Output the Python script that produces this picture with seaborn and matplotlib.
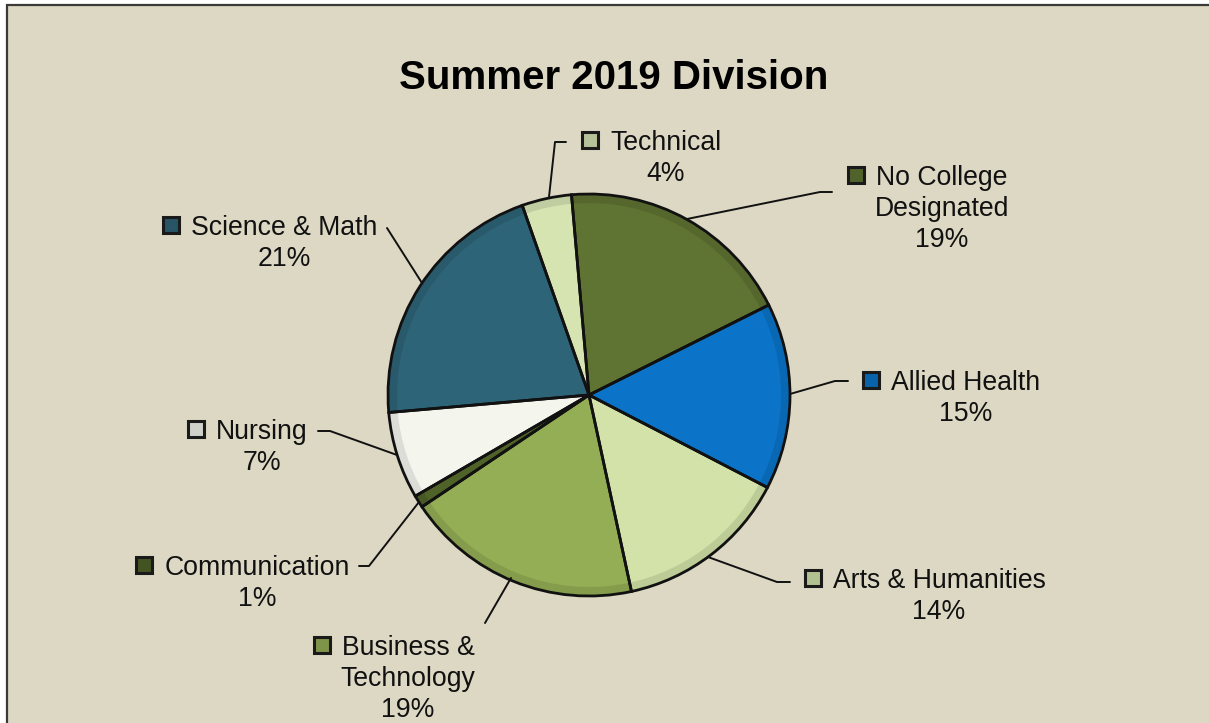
import matplotlib.pyplot as plt
import seaborn as sns
from matplotlib.patches import Rectangle
import numpy as np

categories = ["No College\nDesignated", "Allied Health", "Arts & Humanities",
              "Business &\nTechnology", "Communication", "Nursing",
              "Science & Math", "Technical"]
shares = [19, 15, 14, 19, 1, 7, 21, 4]
slice_colors = ["#5f7332", "#0b74c8", "#d3e2a8", "#94ae55",
                "#4f6228", "#f4f6ee", "#2e6478", "#d6e4b2"]

# label layout in pixels (text center x, first line center y from top)
label_pos = [(942, 175), (966, 380), (939, 578), (408, 645),
             (257, 565), (262, 429), (284, 225), (666, 140)]
leaders = [
    [(687, 219), (820, 192), (832, 192)],
    [(790, 394), (835, 381), (848, 381)],
    [(708, 557), (777, 582), (790, 582)],
    [(511, 578), (485, 623)],
    [(419, 502), (369, 566), (359, 566)],
    [(397, 455), (330, 431), (318, 431)],
    [(422, 283), (387, 228)],
    [(549, 197), (555, 142), (566, 142)],
]

W, H = 1209, 723
sns.set_theme(style="white")
plt.rcParams["font.family"] = ["Liberation Sans", "DejaVu Sans"]
bg = "#ddd8c3"
palette = sns.color_palette(slice_colors)

fig = plt.figure(figsize=(W / 100, H / 100), dpi=100, facecolor="white")
ax = fig.add_axes([0, 0, 1, 1])

def Y(py):
    return H - py

# chart area frame
ax.add_patch(Rectangle((6.5, -20), W + 40, Y(4.5) + 20, facecolor=bg,
                       edgecolor="#3a3a3a", lw=1.6, zorder=0))

cx, cy, r = 589, Y(395), 201
ax.pie(shares, colors=palette, startangle=95, counterclock=False,
       center=(cx, cy), radius=r, frame=True,
       wedgeprops=dict(edgecolor="none"))
# soft darker rim for a little bevel
dark = [tuple(np.array(c) * 0.75) for c in palette]
ax.pie(shares, colors=dark, startangle=95, counterclock=False,
       center=(cx, cy), radius=r - 1, frame=True,
       wedgeprops=dict(width=8, edgecolor="none", alpha=0.4))
ax.pie(shares, colors=["none"] * len(shares), startangle=95, counterclock=False,
       center=(cx, cy), radius=r, frame=True,
       wedgeprops=dict(edgecolor="#111111", linewidth=2.0))
ax.set_xlim(0, W)
ax.set_ylim(0, H)
ax.set_aspect("equal")
ax.axis("off")

ax.text(614, Y(78), "Summer 2019 Division", ha="center", va="center",
        fontsize=29, fontweight="bold", color="black")

fs = 19.2
pitch = 31
fig.canvas.draw()
renderer = fig.canvas.get_renderer()
for name, val, col, (tx, ty), pts in zip(categories, shares, palette, label_pos, leaders):
    lines = name.split("\n") + [f"{val}%"]
    first = None
    for i, line in enumerate(lines):
        t = ax.text(tx, Y(ty + i * pitch + 10), line, ha="center", va="baseline",
                    fontsize=fs, color="#111111")
        if i == 0:
            first = t
    bb = first.get_window_extent(renderer)
    sq = 16
    key_col = tuple(np.array(col) * 0.85)
    ax.add_patch(Rectangle((bb.x0 - 12 - sq, Y(ty + sq / 2)), sq, sq,
                           facecolor=key_col, edgecolor="#1a1a1a", lw=2.2, zorder=5))
    xs = [p[0] for p in pts]
    ys = [Y(p[1]) for p in pts]
    ax.plot(xs, ys, color="#111111", lw=1.4, zorder=4)

fig.savefig("out.png", dpi=100, facecolor="white")
